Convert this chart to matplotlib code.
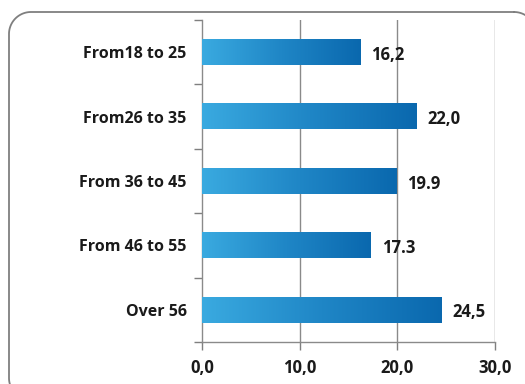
import matplotlib
matplotlib.use("Agg")
import matplotlib.pyplot as plt
import numpy as np
from matplotlib.colors import LinearSegmentedColormap
from matplotlib.lines import Line2D

categories = ["From18 to 25", "From26 to 35", "From 36 to 45", "From 46 to 55", "Over 56"]
values = [16.2, 22.0, 19.9, 17.3, 24.5]
value_labels = ["16,2", "22,0", "19.9", "17.3", "24,5"]
xtick_values = [0, 10, 20, 30]
xtick_labels = ["0,0", "10,0", "20,0", "30,0"]

plt.rcParams['font.family'] = ['Open Sans', 'DejaVu Sans']

W, H = 525, 384
fig = plt.figure(figsize=(W / 100, H / 100), dpi=100)
fig.patch.set_facecolor("white")


def rounded_frame(x0, y0, x1, y1, r, steps=30):
    """Outline of a rounded rectangle in pixel coordinates (y downwards)."""
    pts = []
    corners = [(x1 - r, y0 + r, -90, 0), (x1 - r, y1 - r, 0, 90),
               (x0 + r, y1 - r, 90, 180), (x0 + r, y0 + r, 180, 270)]
    for cx, cy, a0, a1 in corners:
        t = np.radians(np.linspace(a0, a1, steps))
        pts.extend(zip(cx + r * np.cos(t), cy + r * np.sin(t)))
    pts.append(pts[0])
    xs = np.array([p[0] for p in pts]) / W
    ys = 1 - np.array([p[1] for p in pts]) / H
    return xs, ys


fx, fy = rounded_frame(9, 12, 536, 400, 22)
fig.add_artist(Line2D(fx, fy, transform=fig.transFigure, color="#7f7f7f",
                      linewidth=1.3, solid_joinstyle="round"))

ax = fig.add_axes([202 / W, 1 - 342 / H, (495 - 202) / W, (342 - 20) / H])
n = len(categories)

cmap = LinearSegmentedColormap.from_list("bar", ["#3aaae0", "#1f86c6", "#0a68ae"])
grad = np.linspace(0, 1, 256).reshape(1, -1)
bar_h = 0.40
for i, v in enumerate(values):
    ax.imshow(grad, cmap=cmap, aspect="auto", interpolation="bilinear",
              extent=(0, v, i + bar_h / 2, i - bar_h / 2), zorder=3)
    ax.text(v + 1.1, i + 0.04, value_labels[i], va="center", ha="left",
            fontsize=12, fontweight="bold", color="#1a1a1a", zorder=4)
ax.set_xlim(0, 30)
ax.set_ylim(n - 0.5, -0.5)

ax.set_xticks(xtick_values)
ax.set_xticklabels(xtick_labels, fontsize=12, fontweight="bold", color="#1a1a1a")
ax.set_yticks(np.arange(n))
ax.set_yticklabels(categories, fontsize=11.5, fontweight="bold", color="#1a1a1a")
ax.tick_params(axis="y", length=0, pad=11)
ax.set_yticks(np.arange(n + 1) - 0.5, minor=True)
ax.tick_params(axis="y", which="minor", length=6, color="#7f7f7f", width=1)
ax.tick_params(axis="x", length=6, color="#7f7f7f", width=1, pad=6)

for x in xtick_values[1:]:
    ax.axvline(x, color="#8a8a8a", linewidth=1, zorder=1)

for s in ["top", "right"]:
    ax.spines[s].set_visible(False)
for s in ["left", "bottom"]:
    ax.spines[s].set_color("#8a8a8a")
    ax.spines[s].set_linewidth(1)

fig.savefig("out.png", dpi=100)
